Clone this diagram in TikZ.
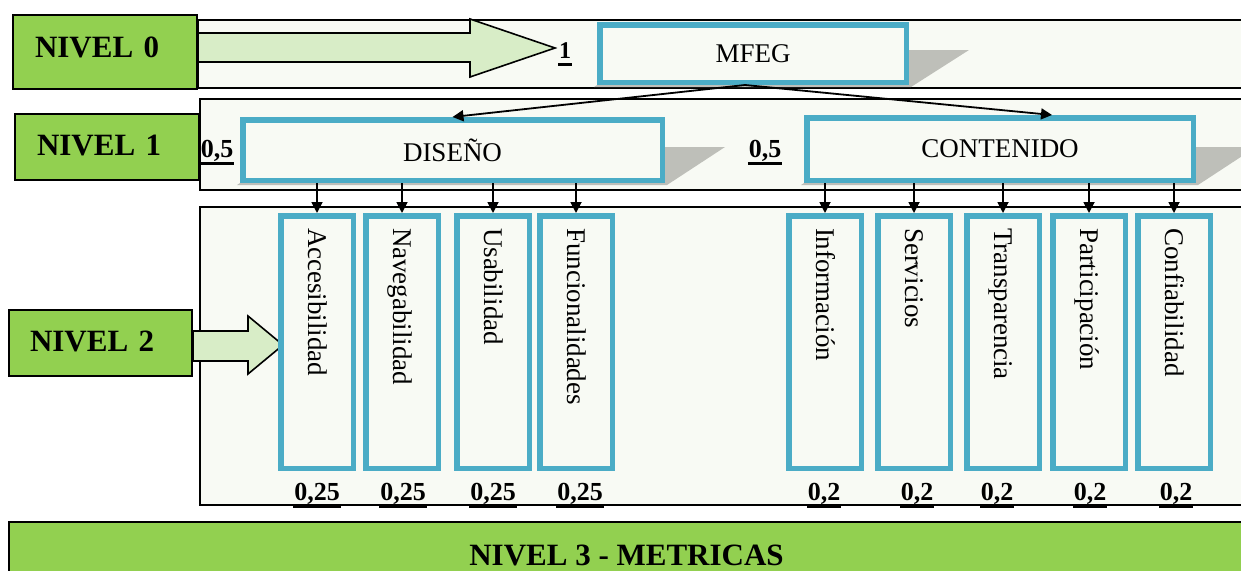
\documentclass[tikz,border=0pt]{standalone}
\usepackage{fontspec}
\setmainfont{Liberation Serif}
\usetikzlibrary{arrows.meta,calc}

\definecolor{levelgreen}{HTML}{92D050}
\definecolor{arrowgreen}{HTML}{D8EDC7}
\definecolor{bandfill}{HTML}{F8FAF4}
\definecolor{frameteal}{HTML}{4BACC6}
\definecolor{shadowgray}{HTML}{BEBFB9}

% bold number with a thick underline
\newcommand\ulnum[1]{\setbox0\hbox{#1}\rlap{\kern-1pt\rule[-7.5pt]{\dimexpr\wd0+2pt\relax}{2.2pt}}\box0}
% vertical label, read from top to bottom, starting at the top of its box
\newcommand\vtext[1]{\rotatebox{-90}{\makebox[228pt][l]{\rule[-6pt]{0pt}{30pt}#1}}}
% skewed grey shadow behind a framed box: left x, right x, top y, bottom y
\newcommand\dropshadow[4]{\fill[shadowgray] (#1-3,#4) -- (#2+2,#4) -- (#2+60,#3) -- (#1+55,#3) -- cycle;}

\tikzset{
  band/.style={draw=black, line width=1.8pt, fill=bandfill},
  blockarrow/.style={draw=black, line width=1.6pt, fill=arrowgreen, line join=miter},
  levelbox/.style={draw=black, line width=1.8pt, fill=levelgreen, inner sep=0pt,
    font=\fontsize{31}{36}\selectfont\bfseries, text height=21pt},
  tealbox/.style={draw=frameteal, line width=5.5pt, fill=bandfill, inner sep=0pt,
    font=\fontsize{27}{32}\selectfont},
  leaf/.style={tealbox, minimum width=72.5pt, minimum height=252.5pt},
  conn/.style={draw=black, line width=1.8pt, -{Triangle[length=11pt,width=11pt]}},
  weight/.style={anchor=base, inner sep=0pt, font=\fontsize{26}{31}\selectfont\bfseries}
}

\begin{document}
\begin{tikzpicture}[x=1pt,y=-1pt]
\useasboundingbox (0,0) rectangle (1241,570);

% level bands
\draw[band] (198,20) rectangle (1260,88);
\draw[band] (200,99) rectangle (1260,190);
\draw[band] (200,207) rectangle (1260,505);

% shadows of the level 0 and level 1 boxes
\dropshadow{597}{909}{50}{87}
\dropshadow{240}{665}{147}{185}
\dropshadow{804}{1196}{147}{185}

% block arrows from the level labels
\draw[blockarrow] (198,33) -- (470,33) -- (470,19) -- (555,48) -- (470,77) -- (470,62) -- (198,62) -- cycle;
\draw[blockarrow] (193,331) -- (248,331) -- (248,316) -- (283,345) -- (248,374) -- (248,361) -- (193,361) -- cycle;

% level labels
\node[levelbox, minimum width=184pt, minimum height=74pt, text width=140pt, align=left, text depth=11pt] (n0) at (105,52) {NIVEL 0};
\node[levelbox, minimum width=184pt, minimum height=66pt, text width=140pt, align=left, text depth=5pt] (n1) at (107,147) {NIVEL 1};
\node[levelbox, minimum width=183pt, minimum height=66pt, text width=141pt, align=left, text depth=5pt] (n2) at (100.5,343) {NIVEL 2};
\node[levelbox, minimum width=1235pt, minimum height=65pt, text depth=0pt] (n3) at (626.5,554.5) {NIVEL 3 - METRICAS};

% model and its two dimensions
\node[tealbox, minimum width=306.5pt, minimum height=57.5pt] (mfeg) at (753,53.5) {MFEG};
\node[tealbox, minimum width=419.5pt, minimum height=60.5pt] (diseno) at (452.5,150) {DISEÑO};
\node[tealbox, minimum width=386.5pt, minimum height=62.5pt] (contenido) at (1000,149) {CONTENIDO};

% criteria
\node[leaf] (acc) at (317,342) {\vtext{Accesibilidad}};
\node[leaf] (nav) at (402,342) {\vtext{Navegabilidad}};
\node[leaf] (usa) at (493,342) {\vtext{Usabilidad}};
\node[leaf] (fun) at (576,342) {\vtext{Funcionalidades}};
\node[leaf] (inf) at (825,342) {\vtext{Información}};
\node[leaf] (ser) at (914,342) {\vtext{Servicios}};
\node[leaf] (tra) at (1003,342) {\vtext{Transparencia}};
\node[leaf] (par) at (1089,342) {\vtext{Participación}};
\node[leaf] (con) at (1174,342) {\vtext{Confiabilidad}};

% connectors
\draw[conn] ([xshift=-8pt]mfeg.south) -- (diseno.north);
\draw[conn] ([xshift=-8pt]mfeg.south) -- ([xshift=52pt]contenido.north);
\foreach \c in {acc,nav,usa,fun}
  \draw[conn] (\c.north |- diseno.south) -- (\c.north);
\foreach \c in {inf,ser,tra,par,con}
  \draw[conn] (\c.north |- contenido.south) -- (\c.north);

% weights
\node[weight, font=\fontsize{24}{29}\selectfont\bfseries] (w0) at (565,58) {\ulnum{1}};
\node[weight] (wd) at (217,157) {\ulnum{0,5}};
\node[weight] (wc) at (765,157) {\ulnum{0,5}};
\node[weight] (wacc) at (317,500) {\ulnum{0,25}};
\node[weight] (wnav) at (403,500) {\ulnum{0,25}};
\node[weight] (wusa) at (493,500) {\ulnum{0,25}};
\node[weight] (wfun) at (580,500) {\ulnum{0,25}};
\node[weight] (winf) at (824,500) {\ulnum{0,2}};
\node[weight] (wser) at (917,500) {\ulnum{0,2}};
\node[weight] (wtra) at (997,500) {\ulnum{0,2}};
\node[weight] (wpar) at (1090,500) {\ulnum{0,2}};
\node[weight] (wcon) at (1176,500) {\ulnum{0,2}};
\end{tikzpicture}
\end{document}
